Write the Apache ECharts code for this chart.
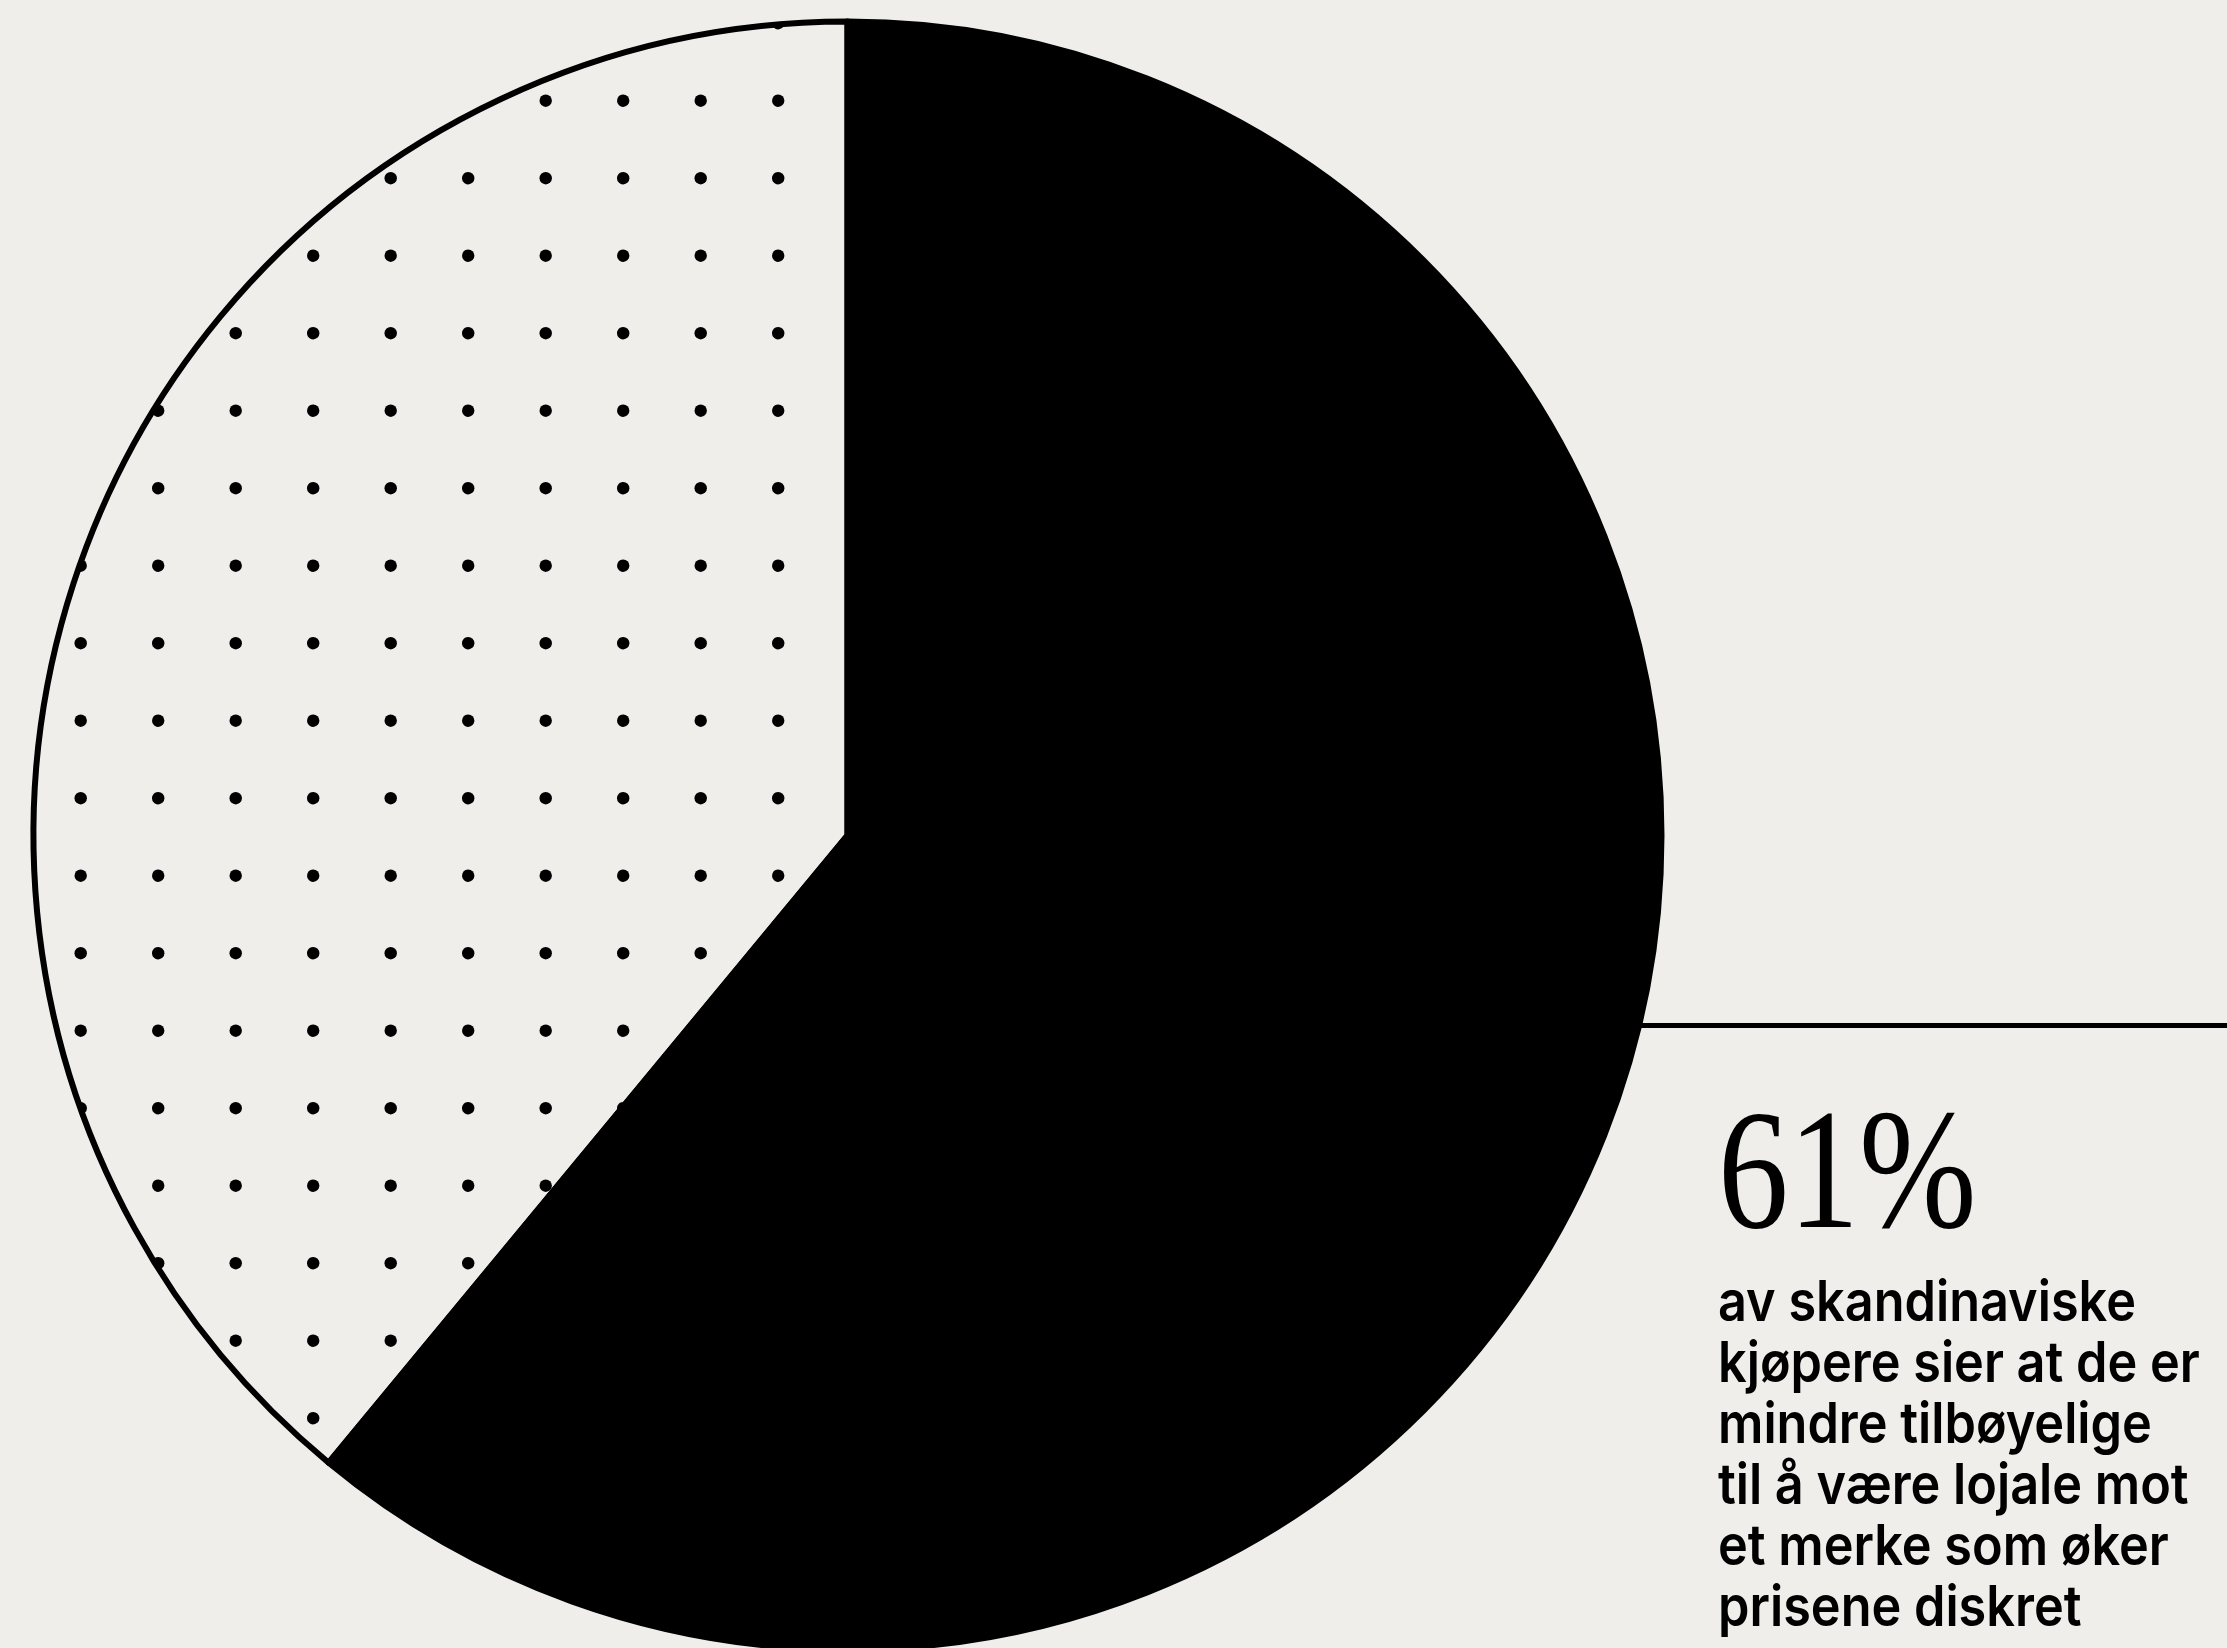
<!DOCTYPE html>
<html>
<head>
<meta charset="utf-8">
<script src="https://cdn.jsdelivr.net/npm/echarts@6/dist/echarts.min.js"></script>
<style>
  html, body { margin: 0; padding: 0; background: #efeeea; }
  #chart { width: 2227px; height: 1648px; }
</style>
</head>
<body>
<div id="chart"></div>
<script>
// Share of Scandinavian shoppers (percent)
const categories = ['Mindre lojale', 'Øvrige'];
const shareValues = [61, 39];

// Callout text
const headline = shareValues[0] + '%';
const bodyLines = [
  'av skandinaviske',
  'kjøpere sier at de er',
  'mindre tilbøyelige',
  'til å være lojale mot',
  'et merke som øker',
  'prisene diskret'
];

// Dotted fill for the remaining share: a 2x2 tile of dots, 77.5px apart
function makeDotTile() {
  const step = 77.5;
  const size = step * 2;
  const c = document.createElement('canvas');
  c.width = size;
  c.height = size;
  const ctx = c.getContext('2d');
  ctx.fillStyle = '#000000';
  const ox = 3.2, oy = 23.2, r = 6.2;
  for (let i = 0; i < 2; i++) {
    for (let j = 0; j < 2; j++) {
      for (const wx of [-size, 0, size]) {
        for (const wy of [-size, 0, size]) {
          ctx.beginPath();
          ctx.arc(ox + i * step + wx, oy + j * step + wy, r, 0, Math.PI * 2);
          ctx.fill();
        }
      }
    }
  }
  return c;
}

const chart = echarts.init(document.getElementById('chart'), null, { renderer: 'canvas' });

const sliceItemStyles = [
  { color: '#000000', borderColor: '#000000', borderWidth: 6, borderJoin: 'round' },
  { color: { image: makeDotTile(), repeat: 'repeat' }, borderColor: '#000000', borderWidth: 6, borderJoin: 'round' }
];

const option = {
  backgroundColor: '#efeeea',
  animation: false,
  series: [{
    type: 'pie',
    center: [847.5, 835.5],
    radius: 814,
    startAngle: 90,
    clockwise: true,
    silent: true,
    label: { show: false },
    labelLine: { show: false },
    emphasis: { disabled: true },
    data: categories.map((name, i) => ({
      name: name,
      value: shareValues[i],
      itemStyle: sliceItemStyles[i]
    }))
  }],
  graphic: [
    {
      type: 'line',
      silent: true,
      shape: { x1: 1640, y1: 1025.5, x2: 2227, y2: 1025.5 },
      style: { stroke: '#000000', lineWidth: 5 }
    },
    {
      type: 'text',
      silent: true,
      x: 1718,
      y: 1182,
      scaleX: 0.82,
      style: {
        text: headline,
        x: 0,
        y: 0,
        fill: '#000000',
        font: '172px "Liberation Serif", serif',
        align: 'left',
        verticalAlign: 'middle'
      }
    },
    {
      type: 'text',
      silent: true,
      x: 1718,
      y: 1274,
      scaleX: 0.9,
      style: {
        text: bodyLines.join('\n'),
        x: 0,
        y: 0,
        fill: '#000000',
        font: '600 56px Inter, sans-serif',
        lineHeight: 61,
        align: 'left',
        verticalAlign: 'top'
      }
    }
  ]
};

chart.setOption(option);
</script>
</body>
</html>
